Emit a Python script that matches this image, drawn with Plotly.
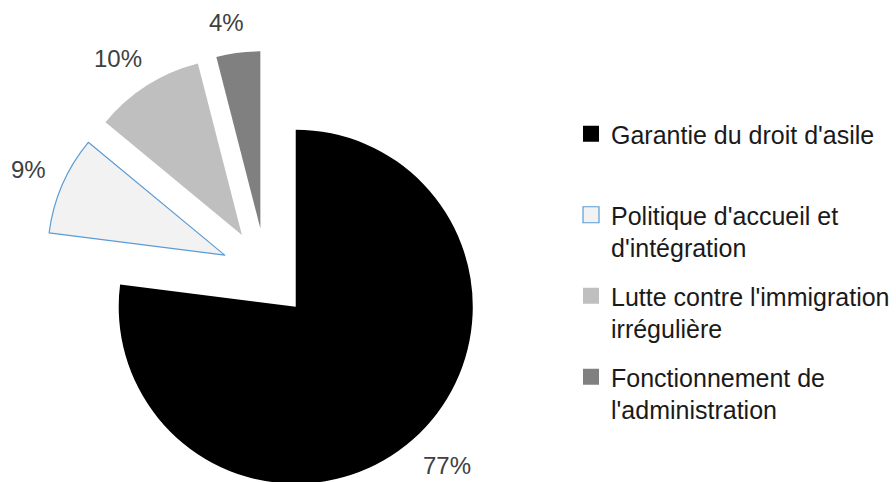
import math
import plotly.graph_objects as go

categories = ["Garantie du droit d'asile",
              "Politique d'accueil et<br>d'intégration",
              "Lutte contre l'immigration<br>irrégulière",
              "Fonctionnement de<br>l'administration"]
values = [77, 9, 10, 4]
colors = ["#000000", "#F2F2F2", "#BFBFBF", "#808080"]
line_colors = ["#000000", "#5B9BD5", "#BFBFBF", "#808080"]
line_widths = [0, 1.2, 0, 0]

W, H = 896, 495
FONT = "Liberation Sans"
BOX = 444            # pixel size of the pie box
PULL = 0.254
CX, CY = 266, H - BOX / 2
LABEL_FS = 24
GAP = 18

fig = go.Figure()
fig.add_trace(go.Pie(
    values=values, labels=categories, sort=False, direction="clockwise", rotation=0,
    pull=[PULL] * len(values),
    marker=dict(colors=colors, line=dict(color=line_colors, width=line_widths)),
    textinfo="none",
    domain=dict(x=[0, 2 * CX / W], y=[0, BOX / H]),
    showlegend=False, hoverinfo="skip",
))

# percentage labels placed outside each slice, from the values
total = sum(values)
r_px = BOX / (2 + 2 * PULL)
annotations = []
cum = 0
for v in values:
    mid = (cum + v / 2) / total * 2 * math.pi
    cum += v
    ux, uy = math.sin(mid), -math.cos(mid)
    txt = f"{round(100 * v / total)}%"
    hw = ((len(txt) - 1) * 0.556 + 0.889) * LABEL_FS / 2
    hh = 12
    m = max(abs(ux), abs(uy))
    offx = 0.5 * (math.copysign(hw, ux) + hw * ux / m)
    offy = 0.5 * (math.copysign(hh, uy) + hh * uy / m)
    d = r_px * PULL + r_px + GAP
    px = CX + d * ux + offx
    py = CY + d * uy + offy
    annotations.append(dict(x=px / W, y=1 - py / H, xref="paper", yref="paper",
                            text=txt, showarrow=False, xanchor="center", yanchor="middle",
                            font=dict(size=LABEL_FS, color="#404040", family=FONT)))

# legend entries (one group per category so that the spacing matches)
for i, (cat, col, lc, lw) in enumerate(zip(categories, colors, line_colors, line_widths)):
    txt = cat if "<br>" in cat else cat + "<br> "
    fig.add_trace(go.Scatter(
        x=[None], y=[None], mode="markers", name=txt,
        legendgroup=f"g{i}",
        marker=dict(symbol="square", size=16, color=col,
                    line=dict(color=lc, width=lw)),
        hoverinfo="skip",
    ))

fig.update_layout(
    width=W, height=H,
    margin=dict(l=0, r=0, t=0, b=0, autoexpand=False),
    paper_bgcolor="white", plot_bgcolor="white",
    font=dict(family=FONT, color="#1a1a1a"),
    xaxis=dict(visible=False), yaxis=dict(visible=False),
    annotations=annotations,
    legend=dict(x=571 / W, xanchor="left", y=1 - 111 / H, yanchor="top",
                font=dict(size=25, family=FONT, color="#1a1a1a"),
                valign="top", tracegroupgap=13, bgcolor="rgba(0,0,0,0)",
                itemclick=False, itemdoubleclick=False),
)

post = ("document.documentElement.style.overflow='hidden';"
        "document.body.style.overflow='hidden';"
        "document.body.style.margin='0';")
fig.write_html("out.html", post_script=post, config={"displayModeBar": False})
